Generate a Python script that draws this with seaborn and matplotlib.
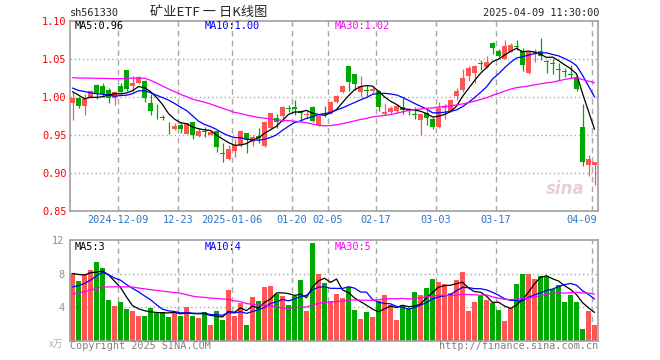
import matplotlib
matplotlib.use('Agg')

import matplotlib.pyplot as plt
import seaborn as sns
import pandas as pd
import numpy as np

sns.set_style('white')
plt.rcParams['font.family'] = ['DejaVu Sans Mono', 'Noto Sans CJK SC']

# daily k-line data, 2024-11-27 .. 2025-04-09 (88 trading days)
open_ = [0.993, 0.9987, 0.989, 0.9987, 1.0162, 1.0149, 1.0096, 0.9987, 1.0149, 1.036,
         1.0149, 1.0193, 1.0218, 0.993, 0.9725, 0.9737, 0.9672, 0.9583, 0.9636, 0.9522,
         0.968, 0.9491, 0.955, 0.9504, 0.9557, 0.9265, 0.9184, 0.930, 0.9373, 0.953,
         0.9416, 0.949, 0.9365, 0.959, 0.9725, 0.975, 0.9858, 0.9876, 0.982, 0.9765,
         0.9876, 0.9636, 0.9797, 0.9795, 0.9935, 1.007, 1.041, 1.0307, 1.0075, 1.0093,
         1.0082, 1.0087, 0.978, 0.9805, 0.982, 0.9868, 0.9826, 0.978, 0.970, 0.979,
         0.9714, 0.961, 0.9858, 0.9825, 1.0015, 1.0096, 1.028, 1.0325, 1.045, 1.0405,
         1.072, 1.0615, 1.051, 1.0598, 1.067, 1.0615, 1.032, 1.059, 1.0615, 1.048,
         1.0445, 1.037, 1.034, 1.030, 1.027, 0.9614, 0.911, 0.911]
high = [1.0075, 1.000, 1.004, 1.0097, 1.017, 1.0189, 1.0118, 1.0083, 1.0184, 1.036,
        1.0285, 1.028, 1.0228, 1.004, 0.991, 0.9768, 0.9672, 0.9658, 0.968, 0.9667,
        0.968, 0.9592, 0.961, 0.9555, 0.9557, 0.940, 0.9373, 0.945, 0.9565, 0.953,
        0.950, 0.960, 0.969, 0.980, 0.9785, 0.988, 0.990, 0.9965, 0.9835, 0.982,
        0.988, 0.978, 0.9886, 0.995, 1.003, 1.016, 1.041, 1.031, 1.028, 1.016,
        1.014, 1.010, 0.992, 0.9885, 0.991, 0.9985, 0.9855, 0.9876, 0.9785, 0.9833,
        0.9745, 0.994, 0.991, 0.998, 1.012, 1.037, 1.041, 1.043, 1.049, 1.0547,
        1.0725, 1.063, 1.076, 1.071, 1.0755, 1.0645, 1.060, 1.063, 1.078, 1.0485,
        1.051, 1.0445, 1.039, 1.043, 1.029, 0.9915, 0.924, 0.9155]
low = [0.970, 0.9855, 0.977, 0.9985, 0.998, 1.0009, 0.993, 0.990, 1.004, 1.0087,
       1.0066, 1.018, 0.9935, 0.977, 0.971, 0.970, 0.952, 0.957, 0.9526, 0.9515,
       0.9455, 0.9474, 0.948, 0.950, 0.9285, 0.9153, 0.918, 0.922, 0.935, 0.927,
       0.936, 0.9405, 0.935, 0.958, 0.959, 0.968, 0.9805, 0.977, 0.9695, 0.9715,
       0.967, 0.9625, 0.9745, 0.978, 0.993, 1.006, 1.008, 1.009, 1.000, 1.002,
       1.006, 0.9815, 0.9767, 0.978, 0.980, 0.978, 0.977, 0.9715, 0.950, 0.9636,
       0.9585, 0.9595, 0.971, 0.981, 0.997, 1.0075, 1.022, 1.0185, 1.0365, 1.038,
       1.057, 1.053, 1.050, 1.059, 1.062, 1.035, 1.031, 1.047, 1.049, 1.032,
       1.031, 1.023, 1.027, 1.025, 1.008, 0.9096, 0.8965, 0.884]
close = [0.9996, 0.989, 0.9974, 1.0083, 1.0053, 1.004, 0.9996, 1.0066, 1.0075, 1.0105,
         1.0193, 1.0268, 0.9987, 0.9825, 0.9722, 0.9725, 0.967, 0.9623, 0.9583, 0.9667,
         0.9504, 0.9557, 0.9545, 0.9548, 0.9351, 0.926, 0.9316, 0.9372, 0.9561, 0.9447,
         0.948, 0.9465, 0.968, 0.979, 0.968, 0.987, 0.9852, 0.984, 0.979, 0.9785,
         0.969, 0.976, 0.979, 0.994, 1.0017, 1.015, 1.0205, 1.018, 1.015, 1.0088,
         1.0112, 0.987, 0.981, 0.986, 0.988, 0.9835, 0.982, 0.9772, 0.9776, 0.9728,
         0.961, 0.9865, 0.989, 0.9965, 1.0085, 1.0255, 1.038, 1.0415, 1.0443, 1.0458,
         1.065, 1.0545, 1.068, 1.0685, 1.0665, 1.042, 1.059, 1.061, 1.0545, 1.0458,
         1.044, 1.0362, 1.0335, 1.0295, 1.011, 0.9153, 0.9184, 0.9153]
# volume in 万
volume = [8.03, 7.11, 7.9, 8.42, 9.38, 8.7, 4.85, 4.13, 4.61, 3.77,
          3.54, 2.98, 2.98, 3.93, 3.38, 3.38, 2.86, 3.38, 2.98, 4.01,
          2.94, 2.74, 3.46, 1.91, 3.54, 2.46, 6.04, 2.98, 4.53, 1.91,
          5.24, 4.73, 6.4, 6.52, 5.56, 5.32, 4.25, 5.32, 7.23, 3.54,
          11.64, 7.95, 6.87, 4.73, 5.56, 5.13, 6.36, 3.66, 2.58, 3.42,
          2.82, 4.73, 5.44, 4.25, 2.46, 4.25, 3.85, 5.8, 5.44, 6.28,
          7.35, 6.99, 6.75, 5.68, 7.23, 8.18, 3.54, 4.61, 5.32, 4.85,
          4.49, 3.66, 2.34, 3.93, 6.75, 7.95, 7.95, 7.35, 7.71, 7.71,
          6.16, 6.63, 4.61, 5.44, 4.61, 1.39, 3.54, 1.87]

# 29 earlier sessions, only used to warm up the moving averages
warmup_close = [1.005, 0.998, 1.010, 1.015, 1.002, 1.008, 1.012, 1.006, 1.000, 1.010,
                1.018, 1.012, 1.060, 1.085, 1.092, 1.078, 1.070, 1.065, 1.058, 1.050,
                1.020, 1.012, 1.025, 1.018, 1.010, 1.011, 1.022, 0.998, 1.006]
warmup_vol = [3.1, 3.6, 2.9, 3.5, 3.4, 4.5, 3.9, 4.4, 4.0, 4.2,
              6.5, 5.8, 7.2, 5.5, 6.3, 5.4, 5.9, 5.4, 9.1, 8.3,
              5.6, 5.1, 4.6, 4.2, 4.5, 7.61, 8.25, 7.07, 9.04]

tick_idx = [8, 18, 27, 37, 43, 51, 61, 71, 87]
tick_labels = ['2024-12-09', '12-23', '2025-01-06', '01-20', '02-05',
               '02-17', '03-03', '03-17', '04-09']
price_ticks = [0.85, 0.90, 0.95, 1.00, 1.05, 1.10]
vol_ticks = [4, 8, 12]
price_ma_labels = ['MA5:0.96', 'MA10:1.00', 'MA30:1.02']
vol_ma_labels = ['MA5:3', 'MA10:4', 'MA30:5']
ma_windows = [5, 10, 30]
ma_colors = ['black', '#0000FF', '#FF00FF']

RED = '#FF5555'
GREEN = '#00A800'
GRID = '#A8A8A8'
FRAME = '#A0A0A0'

df = pd.DataFrame({'open': open_, 'high': high, 'low': low, 'close': close, 'vol': volume})
df['idx'] = np.arange(len(df))
n_warm = len(warmup_close)
all_close = pd.Series(warmup_close + close)
all_vol = pd.Series(warmup_vol + volume)
for w in ma_windows:
    df['ma%d' % w] = all_close.rolling(w).mean().iloc[n_warm:].values
    df['vma%d' % w] = all_vol.rolling(w).mean().iloc[n_warm:].values

up = df['close'] >= df['open']
colors = np.where(up, RED, GREEN)

W, H = 660.0, 360.0
def box(l, t, r, b):
    return [l / W, 1 - b / H, (r - l) / W, (b - t) / H]

fig = plt.figure(figsize=(6.6, 3.6), dpi=100)
ax = fig.add_axes(box(70, 21.3, 597.7, 211.3))
axv = fig.add_axes(box(70, 240, 597.7, 340.7))

xlim = (-0.4167, len(df) - 0.47)

# ---------------- price panel
for y in price_ticks[1:-1]:
    ax.axhline(y, color=GRID, ls=(0, (1, 2)), lw=1, zorder=0)
for i in tick_idx:
    ax.axvline(i - 0.4, color=GRID, ls=(0, (4, 3)), lw=1, zorder=0)

ax.vlines(df['idx'], df['low'], df['high'], colors=colors, lw=0.9, zorder=2)
body = (df['close'] - df['open']).abs().clip(lower=0.0008)
ax.bar(df['idx'], body, bottom=np.minimum(df['open'], df['close']),
       width=0.83, color=colors, lw=0, zorder=3)

for w, c in zip(ma_windows, ma_colors):
    sns.lineplot(data=df, x='idx', y='ma%d' % w, ax=ax, color=c, lw=0.9, zorder=4)

ax.set_xlim(*xlim)
ax.set_ylim(0.85, 1.10)
ax.set_yticks(price_ticks)
ax.set_yticklabels(['%.2f' % v for v in price_ticks], color='#FF0000', fontsize=7.4)
ax.set_xticks([])
ax.set_xlabel('')
ax.set_ylabel('')
ax.tick_params(axis='y', length=0, pad=2.5)

for x0, s, c in zip([75, 205, 335], price_ma_labels, ma_colors):
    fig.text(x0 / W, 1 - 26 / H, s, color=c, fontsize=7.4, va='center', ha='left')

# date labels under the price panel
for k, (i, s) in enumerate(zip(tick_idx, tick_labels)):
    if k == len(tick_idx) - 1:
        ax.text(i + 0.35, -0.045, s, transform=ax.get_xaxis_transform(), ha='right',
                va='center', color='#2E75C5', fontsize=7.4)
    else:
        ax.text(i - 0.4, -0.045, s, transform=ax.get_xaxis_transform(), ha='center',
                va='center', color='#2E75C5', fontsize=7.4)

ax.text(0.975, 0.12, 'sina', transform=ax.transAxes, ha='right', va='center',
        fontsize=12, fontstyle='italic', fontweight='bold', color='#EBCFCF',
        family='DejaVu Sans', zorder=1)

# ---------------- volume panel
for y in vol_ticks[:-1]:
    axv.axhline(y, color=GRID, ls=(0, (1, 2)), lw=1, zorder=0)
for i in tick_idx:
    axv.axvline(i - 0.4, color=GRID, ls=(0, (4, 3)), lw=1, zorder=0)

axv.bar(df['idx'], df['vol'], width=0.83, color=colors, lw=0, zorder=2)
for w, c in zip(ma_windows, ma_colors):
    sns.lineplot(data=df, x='idx', y='vma%d' % w, ax=axv, color=c, lw=0.9, zorder=4)

axv.set_xlim(*xlim)
axv.set_ylim(0, 12)
axv.set_yticks(vol_ticks)
axv.set_yticklabels([str(v) for v in vol_ticks], color='#909090', fontsize=7.4)
axv.set_xticks([])
axv.set_xlabel('')
axv.set_ylabel('')
axv.tick_params(axis='y', length=0, pad=4)

for x0, s, c in zip([75, 205, 335], vol_ma_labels, ma_colors):
    fig.text(x0 / W, 1 - 247 / H, s, color=c, fontsize=7.4, va='center', ha='left')

for a in (ax, axv):
    for sp in a.spines.values():
        sp.set_color(FRAME)
        sp.set_linewidth(1.2)

# ---------------- header / footer texts
fig.text(70 / W, 1 - 12.5 / H, 'sh561330', fontsize=7.4, va='center', ha='left')
fig.text(150 / W, 1 - 12.5 / H, '矿业ETF 一 日K线图', fontsize=9.5, va='center', ha='left',
         family=['Noto Sans CJK SC', 'DejaVu Sans'])
fig.text(599 / W, 1 - 12.5 / H, '2025-04-09 11:30:00', fontsize=7.4, va='center', ha='right')
fig.text(63 / W, 1 - 344 / H, 'x万', fontsize=7, va='center', ha='right', color='#B0B0B0',
         fontstyle='italic', family=['Noto Sans CJK SC', 'DejaVu Sans'])
fig.text(70 / W, 1 - 346 / H, 'Copyright 2025 SINA.COM', fontsize=7.3, va='center',
         ha='left', color='#808080')
fig.text(598 / W, 1 - 346 / H, 'http://finance.sina.com.cn', fontsize=7.3, va='center',
         ha='right', color='#808080')

fig.savefig('out.png', dpi=100, facecolor='white')
